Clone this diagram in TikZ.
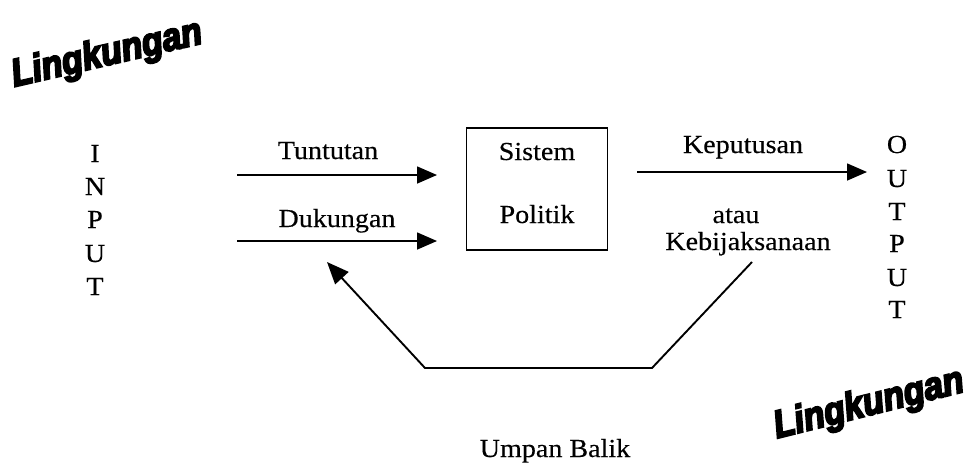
\documentclass[tikz,border=0pt]{standalone}
\usepackage{fontspec}
\setmainfont{Liberation Serif}[FakeStretch=1.08,FakeBold=0.3]
\newfontfamily\lingfont{Liberation Sans Bold Italic}[FakeBold=5,FakeStretch=0.88]
\usetikzlibrary{arrows.meta}
\begin{document}
\begin{tikzpicture}[x=1pt,y=-1pt,
  every node/.style={inner sep=0pt,outer sep=0pt,font=\fontsize{26}{30}\selectfont},
  lbl/.style={anchor=base},
  ltr/.style={anchor=base},
  conn/.style={line width=1.6pt,-{Triangle[length=20pt,width=17pt]}},
  fb/.style={line width=1.9pt,line join=miter},
  ling/.style={font=\lingfont\fontsize{39}{43}\selectfont}]
\useasboundingbox (0,0) rectangle (968,464);
% Lingkungan labels
\node[ling,rotate=13] (ling1) at (107,55) {Lingkungan};
\node[ling,rotate=14] (ling2) at (869,405) {Lingkungan};
% INPUT
\node[ltr] (in1) at (95,162) {I};
\node[ltr] (in2) at (95,195) {N};
\node[ltr] (in3) at (95,228) {P};
\node[ltr] (in4) at (95,262) {U};
\node[ltr] (in5) at (95,295) {T};
% OUTPUT
\node[ltr] (out1) at (897,153) {O};
\node[ltr] (out2) at (897,187) {U};
\node[ltr] (out3) at (897,220) {T};
\node[ltr] (out4) at (897,252) {P};
\node[ltr] (out5) at (897,286) {U};
\node[ltr] (out6) at (897,318) {T};
% system box
\node[draw,line width=1.6pt,minimum width=141pt,minimum height=122pt] (box) at (537,189) {};
\node[lbl] (sis) at (537,160) {Sistem};
\node[lbl] (pol) at (537,223) {Politik};
% input arrows
\node[lbl] (tun) at (328,159) {Tuntutan};
\node[lbl] (duk) at (337,227) {Dukungan};
\coordinate (t0) at (237,175);
\coordinate (t1) at (437,175);
\coordinate (d0) at (237,241);
\coordinate (d1) at (437,241);
\draw[conn] (t0) -- (t1);
\draw[conn] (d0) -- (d1);
% output arrow
\node[lbl] (kep) at (743,153) {Keputusan};
\node[lbl] (atau) at (736,223) {atau};
\node[lbl] (keb) at (748,250) {Kebijaksanaan};
\coordinate (k0) at (637,172);
\coordinate (k1) at (867,172);
\draw[conn] (k0) -- (k1);
% feedback
\coordinate (f0) at (752,262);
\coordinate (f1) at (652,368);
\coordinate (f2) at (425,368);
\coordinate (f3) at (327,262);
\draw[fb,-{Triangle[length=22pt,width=18pt]}] (f0) -- (f1) -- (f2) -- (f3);
\node[lbl] (umpan) at (555,457) {Umpan Balik};
\end{tikzpicture}
\end{document}
